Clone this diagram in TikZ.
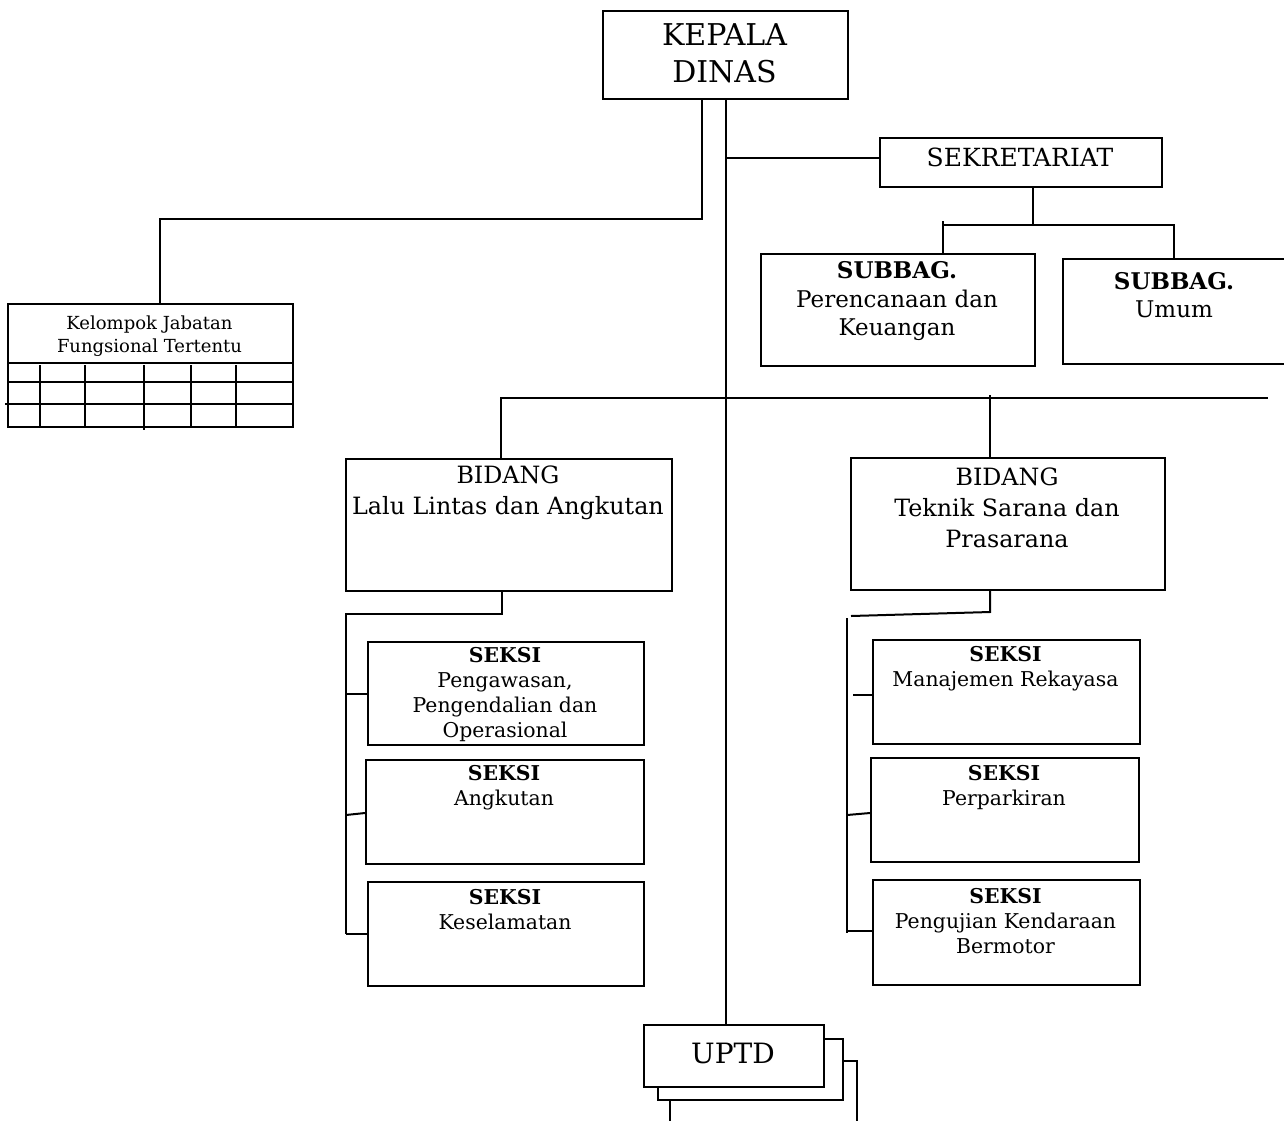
\documentclass[tikz,border=0pt]{standalone}
\usepackage{fontspec}
\setmainfont{DejaVu Serif}
\begin{document}
\begin{tikzpicture}[x=1pt,y=-1pt,
  ln/.style={line width=2pt},
  box/.style={draw, line width=2pt, inner sep=0pt, anchor=north west, fill=white},
  txt/.style={inner sep=0pt, align=center, anchor=center},
  fkd/.style={font=\fontsize{30}{37}\selectfont},
  fsek/.style={font=\fontsize{25}{30}\selectfont},
  fsub/.style={font=\fontsize{23}{28.5}\selectfont},
  fbid/.style={font=\fontsize{23.8}{31}\selectfont},
  fsek2/.style={font=\fontsize{20.4}{25}\selectfont},
  fkjf/.style={font=\fontsize{18}{23}\selectfont},
  fup/.style={font=\fontsize{28}{34}\selectfont}]
\useasboundingbox (0,0) rectangle (1284,1120);

% boxes
\node[box, minimum width=245, minimum height=88] (kd) at (602,10) {};
\node[box, minimum width=282, minimum height=49] (sek) at (879,137) {};
\node[box, minimum width=274, minimum height=112] (sb1) at (760,253) {};
\node[box, minimum width=240, minimum height=105] (sb2) at (1062,258) {};
\node[box, minimum width=285, minimum height=123] (kjf) at (7,303) {};
\node[box, minimum width=326, minimum height=132] (b1) at (345,458) {};
\node[box, minimum width=314, minimum height=132] (b2) at (850,457) {};
\node[box, minimum width=276, minimum height=103] (s1) at (367,641) {};
\node[box, minimum width=278, minimum height=104] (s2) at (365,759) {};
\node[box, minimum width=276, minimum height=104] (s3) at (367,881) {};
\node[box, minimum width=267, minimum height=104] (t1) at (872,639) {};
\node[box, minimum width=268, minimum height=104] (t2) at (870,757) {};
\node[box, minimum width=267, minimum height=105] (t3) at (872,879) {};
\node[box, minimum width=187, minimum height=80] (up3) at (669,1060) {};
\node[box, minimum width=185, minimum height=61] (up2) at (657,1038) {};
\node[box, minimum width=180, minimum height=62] (up) at (643,1024) {};

% table inside Kelompok Jabatan box
\draw[ln] (7,363) -- (292,363);
\draw[ln] (7,382) -- (292,382);
\draw[ln] (5,404) -- (292,404);
\foreach \cx in {40,85,191,236} \draw[ln] (\cx,365) -- (\cx,426);
\draw[ln] (144,365) -- (144,430);

% texts
\node[txt, fkd] (tkd) at (724.5,53.5) {KEPALA\\DINAS};
\node[txt, fsek] (tsek) at (1020,157) {SEKRETARIAT};
\node[txt, fsub] (tsb1) at (897,301.5) {\textbf{SUBBAG.}\\Perencanaan dan\\Keuangan};
\node[txt, fsub] (tsb2) at (1174,295) {\textbf{SUBBAG.}\\Umum};
\begin{scope}
  \clip (7,303) rectangle (292,362);
  \node[txt, fkjf] (tkjf) at (149.5,336.5) {Kelompok Jabatan\\Fungsional Tertentu};
\end{scope}
\node[txt, fbid] (tb1) at (508,492.5) {BIDANG\\Lalu Lintas dan Angkutan};
\node[txt, fbid] (tb2) at (1007,508) {BIDANG\\Teknik Sarana dan\\Prasarana};
\begin{scope}
  \clip (367,641) rectangle (643,743);
  \node[txt, fsek2] (ts1) at (505,694.5) {\textbf{SEKSI}\\Pengawasan,\\Pengendalian dan\\Operasional};
\end{scope}
\node[txt, fsek2] (ts2) at (504,788) {\textbf{SEKSI}\\Angkutan};
\node[txt, fsek2] (ts3) at (505,910) {\textbf{SEKSI}\\Keselamatan};
\node[txt, fsek2] (tt1) at (1005.5,669) {\textbf{SEKSI}\\Manajemen Rekayasa};
\node[txt, fsek2] (tt2) at (1004,787.5) {\textbf{SEKSI}\\Perparkiran};
\node[txt, fsek2] (tt3) at (1005.5,921) {\textbf{SEKSI}\\Pengujian Kendaraan\\Bermotor};
\node[txt, fup] (tup) at (733,1053) {UPTD};

% connectors
\coordinate (sp) at (726,0);
\coordinate (j1) at (702,219);
\coordinate (kjft) at (160,303);
\draw[ln] (kd.south -| j1) -- (j1) -| (kjft);
\draw[ln] (kd.south -| sp) -- (up.north -| sp);
\draw[ln] (sp |- 0,158) -- (sek.west |- 0,158);
\coordinate (sj) at (1033,225);
\coordinate (a1) at (943,225);
\coordinate (a2) at (1174,225);
\draw[ln] (sek.south -| sj) -- (sj);
\draw[ln] (sb1.north -| a1) -- (943,221);
\draw[ln] (a1) -- (a2) -- (sb2.north -| a2);
\coordinate (bl) at (501,398);
\coordinate (br) at (990,398);
\coordinate (bend) at (1268,398);
\draw[ln] (b1.north -| bl) -- (bl) -- (bend);
\draw[ln] (990,395) -- (b2.north -| br);
% left bidang seksi
\coordinate (l1) at (502,614);
\coordinate (v1) at (346,614);
\draw[ln] (b1.south -| l1) -- (l1) -- (v1) -- (s3.west -| v1);
\draw[ln] (s1.west -| v1) -- (s1.west);
\draw[ln] (346,815) -- (s2.west |- 0,813);
\draw[ln] (s3.west -| v1) -- (s3.west);
% right bidang seksi
\coordinate (r1) at (990,612);
\coordinate (v2) at (847,618);
\draw[ln] (b2.south -| r1) -- (r1) -- (851,616);
\draw[ln] (v2) -- (847,933);
\draw[ln] (853,695) -- (t1.west |- 0,695);
\draw[ln] (847,815) -- (t2.west |- 0,813);
\draw[ln] (847,931) -- (t3.west |- 0,931);
\end{tikzpicture}
\end{document}
